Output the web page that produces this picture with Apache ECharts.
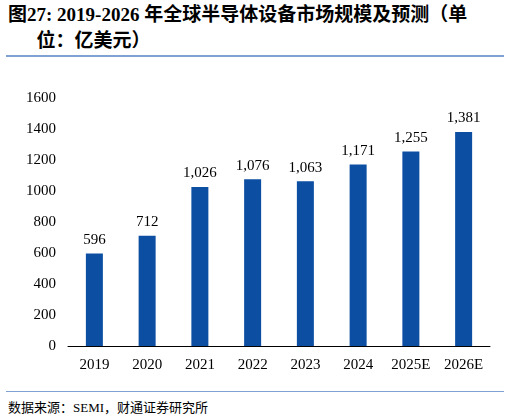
<!DOCTYPE html>
<html><head><meta charset="utf-8">
<script src="https://cdn.jsdelivr.net/npm/echarts@6/dist/echarts.min.js"></script>
<style>
body{margin:0;background:#fff;font-family:'Liberation Serif','Noto Sans CJK SC',serif;}
#title{position:absolute;left:8px;top:2px;width:500px;font-size:19px;font-weight:bold;line-height:26px;color:#000;}
#line1{position:absolute;left:6px;top:55px;width:498px;height:2px;background:#7da2d3;}
#line2{position:absolute;left:6px;top:391px;width:498px;height:1px;background:#7da2d3;}
#src{position:absolute;left:8px;top:397px;font-size:13px;color:#000;}
#chart{position:absolute;left:0;top:60px;width:510px;height:330px;}
</style></head><body>
<div id="title">图27: 2019-2026 年全球半导体设备市场规模及预测（单<br>&emsp;&ensp;位：亿美元）</div>
<div id="line1"></div>
<div id="chart"></div>
<div id="line2"></div>
<div id="src">数据来源：SEMI，财通证券研究所</div>
<script>
// categories and values
const years = ['2019', '2020', '2021', '2022', '2023', '2024', '2025E', '2026E'];
const marketSize = [596, 712, 1026, 1076, 1063, 1171, 1255, 1381];

const chart = echarts.init(document.getElementById('chart'));
const font = "'Liberation Serif','Noto Sans CJK SC',serif";
chart.setOption({
    animation: false,
    textStyle: { fontFamily: font },
    grid: { left: 68, right: 20, top: 38, bottom: 44 },
    xAxis: {
        type: 'category',
        data: years,
        axisLine: { lineStyle: { color: '#000' } },
        axisTick: { show: false },
        axisLabel: { color: '#000', fontSize: 15, fontFamily: font, margin: 12 }
    },
    yAxis: {
        type: 'value',
        min: 0, max: 1600, interval: 200,
        splitLine: { show: false },
        axisLine: { show: false },
        axisLabel: { color: '#000', fontSize: 15, fontFamily: font, margin: 12, formatter: v => String(v) }
    },
    series: [{
        type: 'bar',
        data: marketSize,
        barWidth: 17,
        itemStyle: { color: '#0b4ea2' },
        label: {
            show: true, position: 'top', color: '#000', fontSize: 15, fontFamily: font, distance: 6,
            formatter: p => p.value.toLocaleString('en-US')
        }
    }]
});
</script>
</body></html>
